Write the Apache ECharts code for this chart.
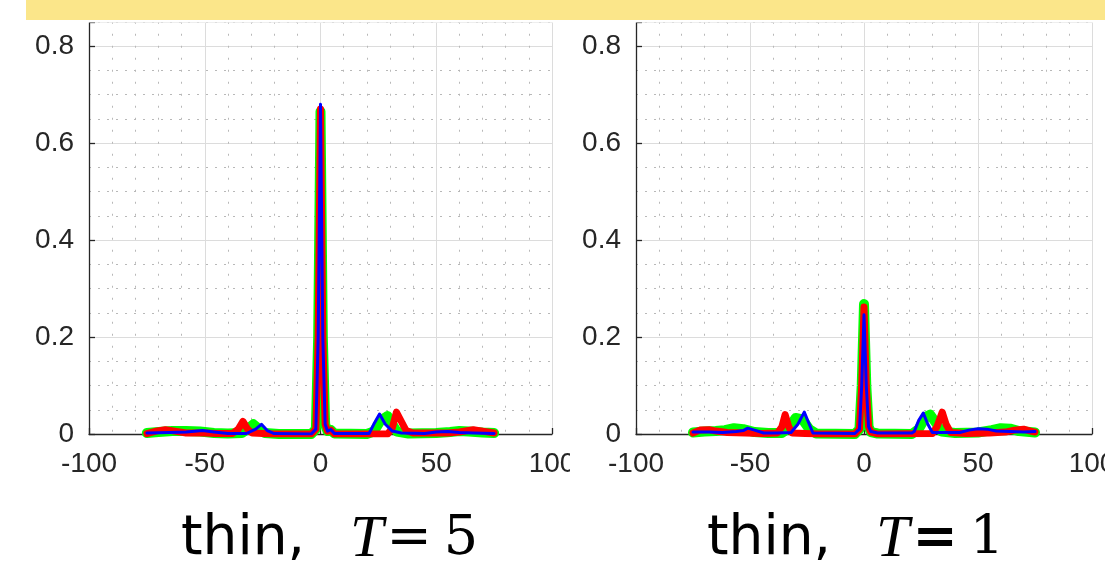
<!DOCTYPE html>
<html><head><meta charset="utf-8">
<script src="https://cdn.jsdelivr.net/npm/echarts@6/dist/echarts.min.js"></script>
<style>html,body{margin:0;padding:0;background:#fff}#c{width:1105px;height:568px}</style>
</head><body><div id="c"></div>
<script>
// ---- data ----
const xTicks = [-100, -50, 0, 50, 100];
const yTicks = [0, 0.2, 0.4, 0.6, 0.8];
const panelNames = ['5', '1'];

// Panel "thin, T = 5"
const t5Green = [[-75,0.002],[-70,0.004],[-64,0.006],[-58,0.006],[-52,0.005],[-46,0.002],[-40,0.001],[-34,0.002],[-31.5,0.01],[-29,0.02],[-26.5,0.01],[-24,0.002],[-18,0],[-4,0],[-2,0.01],[-1,0.2],[0,0.665],[1,0.2],[2,0.02],[3,0.006],[4.5,0.008],[6,0.001],[20,0],[23,0.005],[26,0.028],[29,0.037],[31,0.02],[33,0.005],[38,0.001],[50,0.002],[56,0.004],[60,0.006],[64,0.005],[70,0.003],[75,0.002]];
const t5Red = [[-75,0.001],[-71,0.006],[-67,0.009],[-63,0.006],[-58,0.002],[-50,0.002],[-45,0.001],[-38,0.001],[-35.5,0.01],[-33.5,0.026],[-31.5,0.01],[-29.5,0.002],[-20,0],[-4,0],[-2,0.01],[-1,0.2],[0,0.67],[1,0.2],[2,0.02],[3,0.006],[4.5,0.008],[6,0],[29,0],[31,0.012],[32.8,0.045],[35,0.025],[37,0.007],[40,0.002],[55,0.002],[60,0.004],[66,0.009],[70,0.006],[75,0.002]];
const t5Blue = [[-75,0.002],[-65,0.003],[-58,0.004],[-51,0.007],[-46,0.004],[-40,0.001],[-32,0.001],[-28,0.01],[-25.5,0.02],[-23,0.007],[-20,0.001],[-4,0],[-2,0.01],[-1,0.2],[0,0.68],[1,0.2],[2,0.02],[3,0.006],[4.5,0.009],[6,0.001],[21,0.001],[23,0.02],[25.5,0.041],[28,0.02],[31,0.006],[35,0.002],[45,0.001],[50,0.004],[55,0.005],[60,0.003],[66,0.002],[75,0.001]];

// Panel "thin, T = 1"
const t1Green = [[-75,0.003],[-70,0.005],[-65,0.006],[-61,0.008],[-57,0.012],[-53,0.01],[-48,0.004],[-42,0.002],[-36,0.002],[-33,0.012],[-30,0.033],[-27,0.03],[-24,0.01],[-21,0.001],[-4,0],[-2,0.01],[-1,0.1],[0,0.268],[1,0.1],[2,0.015],[3,0.004],[6,0.001],[21,0],[24,0.01],[27,0.035],[29,0.04],[32,0.02],[34,0.005],[40,0.002],[50,0.003],[56,0.008],[60,0.012],[64,0.011],[68,0.006],[75,0.003]];
const t1Red = [[-75,0.002],[-72,0.008],[-68,0.009],[-65,0.006],[-60,0.003],[-52,0.002],[-45,0.001],[-38,0.002],[-36,0.015],[-34.6,0.04],[-33,0.015],[-31.5,0.002],[-20,0],[-4,0],[-2,0.01],[-1,0.1],[0,0.262],[1,0.1],[2,0.015],[3,0.004],[6,0],[30,0.001],[32,0.015],[34.3,0.045],[36,0.02],[38,0.003],[45,0.001],[55,0.002],[62,0.004],[66,0.008],[70,0.01],[73,0.006],[75,0.004]];
const t1Blue = [[-75,0.004],[-68,0.004],[-62,0.003],[-56,0.005],[-53,0.007],[-51,0.012],[-48,0.008],[-44,0.002],[-38,0.002],[-32,0.003],[-29,0.02],[-26.2,0.045],[-24,0.02],[-22.4,0.002],[-4,0.001],[-2,0.01],[-1,0.1],[0,0.246],[1,0.1],[2,0.015],[3,0.005],[6,0.002],[21,0.002],[22,0.005],[24,0.028],[26,0.043],[28,0.02],[30,0.003],[42,0.003],[46,0.008],[50,0.011],[54,0.01],[58,0.006],[64,0.005],[70,0.004],[75,0.005]];

const panels = [
  { green: t5Green, red: t5Red, blue: t5Blue, left: 89, width: 463, titleX: 181 },
  { green: t1Green, red: t1Red, blue: t1Blue, left: 636, width: 456, titleX: 707 }
];

// ---- chart ----
const AX = '#262626';
const MAJOR = '#dcdcdc';
const MINOR = '#b8b8b8';
const TOP = 21.75, BOTTOM_Y = 434;
const Y_MAX = 0.85;

const option = {
  animation: false,
  backgroundColor: '#fff',
  grid: [], xAxis: [], yAxis: [], series: [], graphic: []
};

panels.forEach((p, i) => {
  option.grid.push({ left: p.left, top: TOP, width: p.width, height: BOTTOM_Y - TOP, containLabel: false, outerBoundsMode: 'none' });
  // major x
  option.xAxis.push({
    gridIndex: i, type: 'value', min: xTicks[0], max: xTicks[xTicks.length - 1],
    interval: xTicks[1] - xTicks[0], position: 'bottom',
    axisLine: { show: true, onZero: false, lineStyle: { color: AX, width: 1.3 } },
    axisTick: { show: true, inside: true, length: 6, lineStyle: { color: AX, width: 1.3 } },
    axisLabel: { show: true, margin: 16, fontSize: 28, color: AX, fontFamily: 'Liberation Sans', showMinLabel: true, showMaxLabel: true, hideOverlap: false },
    splitLine: { show: true, lineStyle: { color: MAJOR, width: 1 } }
  });
  // minor x (dotted grid every 10)
  option.xAxis.push({
    gridIndex: i, type: 'value', min: xTicks[0], max: xTicks[xTicks.length - 1], interval: 10, position: 'top',
    axisLine: { show: false }, axisTick: { show: false }, axisLabel: { show: false },
    splitLine: { show: true, lineStyle: { color: ['rgba(0,0,0,0)', MINOR, MINOR, MINOR, MINOR], width: 1, type: [2, 10] } }
  });
  // major y
  option.yAxis.push({
    gridIndex: i, type: 'value', min: 0, max: Y_MAX, interval: yTicks[1] - yTicks[0], position: 'left',
    axisLine: { show: true, onZero: false, lineStyle: { color: AX, width: 1.3 } },
    axisTick: { show: true, inside: true, length: 6, lineStyle: { color: AX, width: 1.3 } },
    axisLabel: {
      show: true, margin: 15, fontSize: 28, color: AX, fontFamily: 'Liberation Sans',
      formatter: v => { const k = yTicks.findIndex(t => Math.abs(t - v) < 1e-9); return k < 0 ? '' : (v === 0 ? '0' : v.toFixed(1)); }
    },
    splitLine: { show: true, lineStyle: { color: MAJOR, width: 1 } }
  });
  // minor y (dotted grid every 0.05)
  option.yAxis.push({
    gridIndex: i, type: 'value', min: 0, max: Y_MAX, interval: 0.05, position: 'right',
    axisLine: { show: false }, axisTick: { show: false }, axisLabel: { show: false },
    splitLine: { show: true, lineStyle: { color: ['rgba(0,0,0,0)', MINOR, MINOR, MINOR], width: 1, type: [2, 7] } }
  });

  const mk = (data, color, w, z) => ({
    type: 'line', xAxisIndex: 2 * i, yAxisIndex: 2 * i, data: data,
    showSymbol: false, symbol: 'none', smooth: false, z: z, clip: true,
    lineStyle: { color: color, width: w, cap: 'round', join: 'round' }
  });
  option.series.push(mk(p.green, '#00ff00', 10, 3));
  option.series.push(mk(p.red, '#ff0000', 7, 4));
  option.series.push(mk(p.blue, '#0000ff', 3, 5));

  // titles
  option.graphic.push({
    type: 'text', left: p.titleX, top: 510, z: 200,
    style: {
      text: '{a|thin,}{b|T}{c|=}{d|' + panelNames[i] + '}',
      rich: {
        a: { fontFamily: 'DejaVu Sans', fontSize: 55, fill: '#000', lineHeight: 66 },
        b: { fontFamily: 'Liberation Serif', fontStyle: 'italic', fontSize: 60, fill: '#000', padding: [0, 0, 0, 45], lineHeight: 66 },
        c: { fontFamily: 'DejaVu Serif', fontSize: 54, fill: '#000', padding: [0, 0, 0, 3], fontWeight: i === 1 ? 'bold' : 'normal', lineHeight: 66 },
        d: { fontFamily: 'DejaVu Serif', fontSize: 54, fill: '#000', padding: [0, 0, 0, 12], lineHeight: 66 }
      }
    }
  });
});

// yellow band at the top and the white strip below it
option.graphic.push({ type: 'rect', z: 300, shape: { x: 26, y: 0, width: 1079, height: 20 }, style: { fill: '#fbe68a' } });
option.graphic.push({ type: 'rect', z: 300, shape: { x: 0, y: 20, width: 1105, height: 2.4 }, style: { fill: '#ffffff' } });
// the left panel is cut off where the right panel begins
option.graphic.push({ type: 'rect', z: 300, shape: { x: 570, y: 448, width: 30, height: 40 }, style: { fill: '#ffffff' } });

const chart = echarts.init(document.getElementById('c'), null, { renderer: 'canvas' });
chart.setOption(option);
</script>
</body></html>
